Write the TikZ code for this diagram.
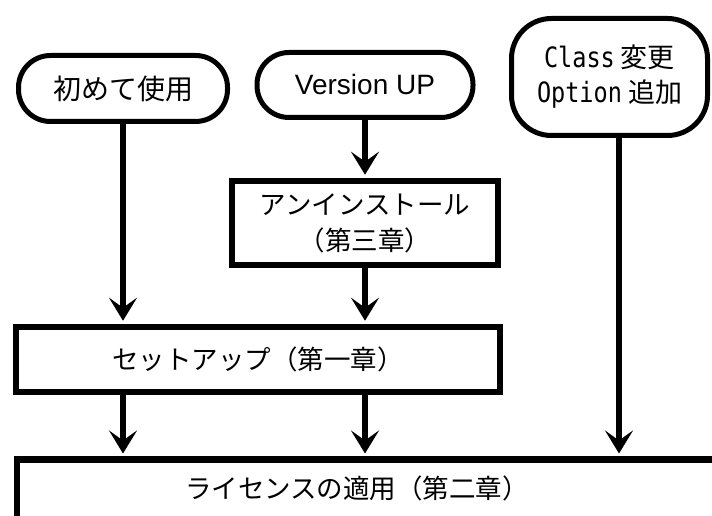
\documentclass[tikz,border=0pt]{standalone}
\usepackage{fontspec}
\setmainfont{Liberation Sans}
\newfontfamily\goth{Noto Sans CJK JP}
\newfontfamily\monof[FakeStretch=0.84]{DejaVu Sans Mono}
\usetikzlibrary{arrows.meta}
\newcommand{\mtx}[1]{{\monof\fontsize{28pt}{35pt}\selectfont #1}}
\begin{document}
\begin{tikzpicture}[x=1pt,y=1pt,
  term/.style={draw, line width=5pt, rounded corners=32pt, inner sep=0pt},
  proc/.style={draw, line width=6.5pt, inner sep=0pt, align=center,
    font=\goth\fontsize{26.5pt}{36pt}\selectfont},
  arr/.style={line width=5.5pt, shorten >=3pt,
    -{Stealth[length=23pt,width=28pt,inset=10pt]}}]
\useasboundingbox (0,0) rectangle (712,516);
\fill[white] (0,0) rectangle (712,516);
% start / terminal nodes
\node[term, minimum width=209pt, minimum height=66pt,
  font=\goth\fontsize{28pt}{34pt}\selectfont] (n1) at (123,427.5) {初めて使用};
\node[term, minimum width=216pt, minimum height=65pt,
  font=\fontsize{28pt}{34pt}\selectfont] (n2) at (365,431) {Version UP};
\node[term, rounded corners=40pt, minimum width=196pt, minimum height=117pt,
  align=center, font=\goth\fontsize{27pt}{35pt}\selectfont] (n3) at (609.5,439)
  {\mtx{Class} 変更\\\mtx{Option} 追加};
% process boxes
\node[proc, minimum width=266pt, minimum height=84pt] (anst) at (365,293)
  {アンインストール\\（第三章）};
\node[proc, minimum width=484pt, minimum height=65pt] (setup) at (258,156.5)
  {セットアップ（第一章）};
\node[draw, line width=6.5pt, inner sep=0pt, minimum width=760pt,
  minimum height=120pt, anchor=north west] (lic) at (13.5,59.5) {};
\node[font=\goth\fontsize{26.5pt}{34pt}\selectfont, inner sep=0pt] (lictext)
  at (357,28) {ライセンスの適用（第二章）};
% connectors
\coordinate (c3) at (619,0);
\draw[arr] (n1) -- (n1 |- setup.north);
\draw[arr] (n2) -- (anst);
\draw[arr] (anst) -- (setup.north -| anst);
\draw[arr] (setup.south -| n1) -- (lic.north -| n1);
\draw[arr] (setup.south -| anst) -- (lic.north -| anst);
\draw[arr] (n3.south -| c3) -- (lic.north -| c3);
\end{tikzpicture}
\end{document}
